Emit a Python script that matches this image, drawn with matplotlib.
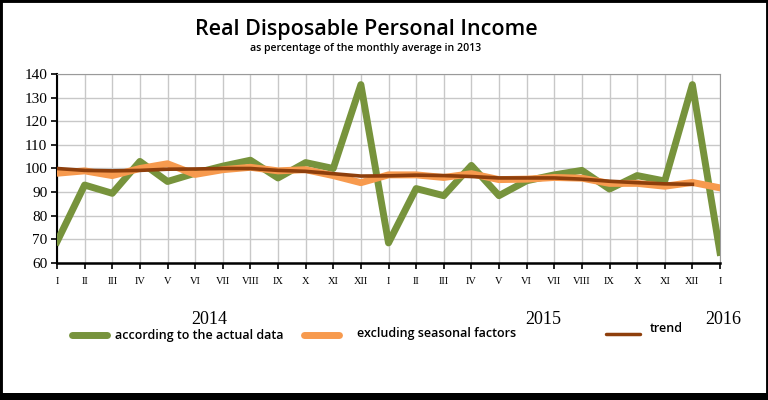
import matplotlib
matplotlib.use("Agg")
import matplotlib.pyplot as plt
from matplotlib.patches import Rectangle
from matplotlib.lines import Line2D

months = ["I", "II", "III", "IV", "V", "VI", "VII", "VIII", "IX", "X", "XI", "XII"] * 2 + ["I"]
years = ["2014", "2015", "2016"]

actual = [69, 93, 89.5, 103, 94.5, 98, 101, 103.5, 96, 102.5, 100, 135.5,
          68.5, 91.5, 88.5, 101.3, 88.5, 94.8, 97.3, 99.2, 91.3, 97, 94.7, 135.5,
          64.5]
seasonal = [98, 99, 97, 100, 102, 97.5, 99.5, 100.5, 99, 99.5, 97, 94,
            97.3, 97.3, 96.2, 97.8, 95.3, 95.5, 96.2, 95.9, 93.7, 93.7, 92.5, 94.1,
            91.8]
trend = [100, 99.2, 99, 99.2, 99.7, 99.8, 100, 100, 99.2, 98.8, 97.8, 96.8,
         96.9, 97.2, 97, 96.6, 96, 96, 96, 95.5, 94.6, 94, 93.5, 93.3]

green = "#77933C"
orange = "#F79A4E"
brown = "#8E3F0C"

fig = plt.figure(figsize=(7.68, 4.0), dpi=100)
fig.patch.set_facecolor("white")

ax = fig.add_axes([57/768, 1-263/400, (720-57)/768, (263-74)/400])
x = list(range(len(months)))
ax.plot(x, actual, color=green, lw=5.0, solid_joinstyle="round", zorder=3)
ax.plot(x, seasonal, color=orange, lw=5.0, solid_joinstyle="round", zorder=4)
ax.plot(list(range(len(trend))), trend, color=brown, lw=2.6, solid_joinstyle="round", zorder=5)

ax.set_xlim(0, len(months)-1)
ax.set_ylim(60, 140)
ax.set_yticks(range(60, 141, 10))
ax.set_xticks(x)
ax.set_xticklabels(months, fontfamily="Liberation Serif", fontsize=7.5)
ax.tick_params(axis="x", direction="out", length=4, width=1.2, pad=6, colors="black")
ax.tick_params(axis="y", direction="out", length=4, width=1.2, labelsize=11, pad=3)
for lab in ax.get_yticklabels():
    lab.set_fontfamily("Liberation Serif")
ax.grid(True, color="#C8C8C8", lw=1.0, zorder=0)
ax.set_axisbelow(True)
ax.spines["left"].set_color("black")
ax.spines["left"].set_linewidth(1.5)
ax.spines["bottom"].set_color("black")
ax.spines["bottom"].set_linewidth(1.8)
ax.spines["top"].set_color("#9A9A9A")
ax.spines["right"].set_color("#9A9A9A")

# year labels
ax.text(5.5, -0.3, years[0], transform=ax.get_xaxis_transform(), ha="center", va="center",
        fontfamily="Liberation Serif", fontsize=13)
ax.text(17.6, -0.3, years[1], transform=ax.get_xaxis_transform(), ha="center", va="center",
        fontfamily="Liberation Serif", fontsize=13)
ax.text(24.1, -0.3, years[2], transform=ax.get_xaxis_transform(), ha="center", va="center",
        fontfamily="Liberation Serif", fontsize=13)

# titles
fig.text(366/768, 1-30/400, "Real Disposable Personal Income", ha="center", va="center",
         fontfamily="Open Sans", fontsize=15.5, fontweight="semibold")
fig.text(366/768, 1-48/400, "as percentage of the monthly average in 2013", ha="center", va="center",
         fontfamily="Open Sans", fontsize=7.6, fontweight="semibold")

# legend
def leg(x0, x1, y, color, lw, label, tx, ty):
    fig.add_artist(Line2D([x0/768, x1/768], [1-y/400, 1-y/400], color=color, lw=lw,
                          solid_capstyle="round"))
    fig.text(tx/768, 1-ty/400, label, ha="left", va="center", fontfamily="Open Sans",
             fontsize=9, fontweight="semibold")

leg(72, 107, 335, green, 5, "according to the actual data", 115, 335)
leg(304, 339, 335, orange, 5, "excluding seasonal factors", 357, 334)
leg(606, 640, 334, brown, 2.5, "trend", 650, 329)

# black frame
fig.add_artist(Rectangle((0, 0), 1, 1, transform=fig.transFigure, fill=False,
                         edgecolor="black", lw=3.5))
fig.add_artist(Rectangle((0, 0), 1, 7/400, transform=fig.transFigure, facecolor="black",
                         edgecolor="none"))

fig.savefig("out.png", dpi=100)
